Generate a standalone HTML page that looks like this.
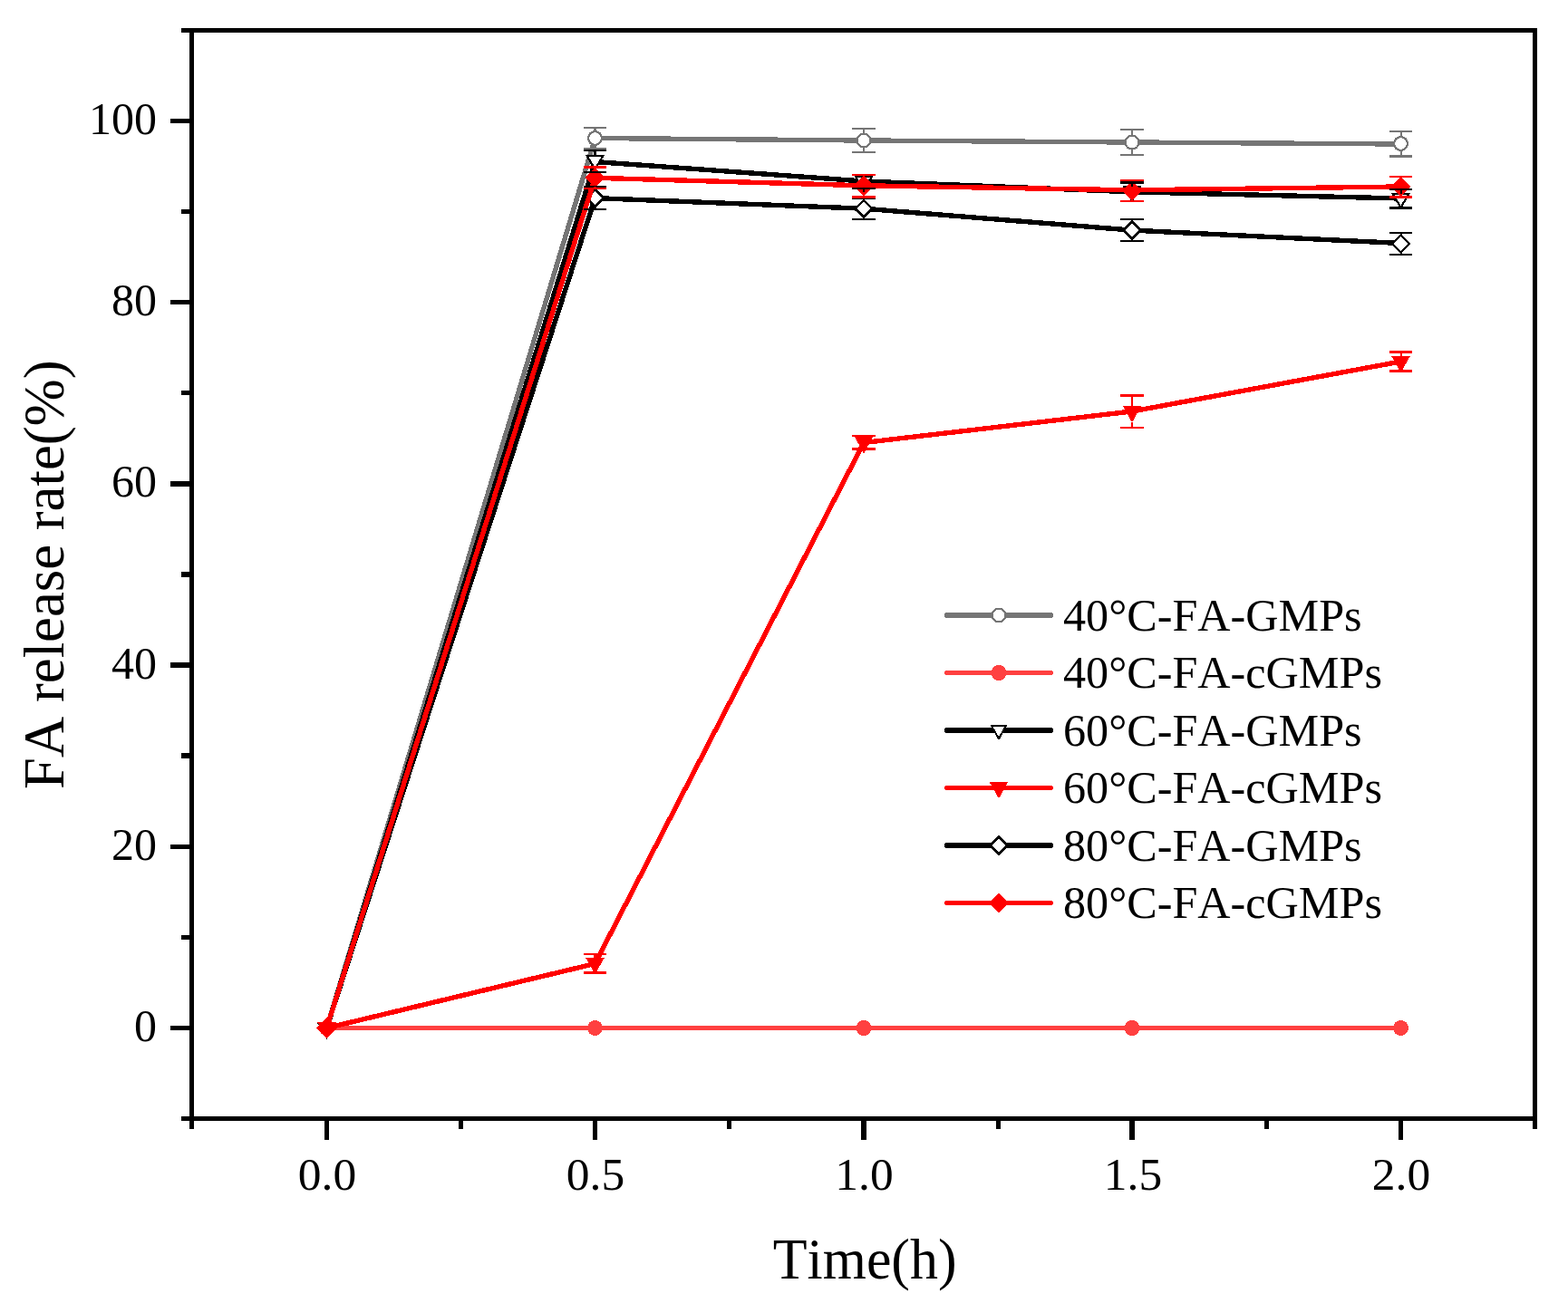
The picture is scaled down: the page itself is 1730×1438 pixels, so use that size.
<!DOCTYPE html>
<html lang="en"><head><meta charset="utf-8"><title>FA release rate</title>
<style>
html,body{margin:0;padding:0;background:#fff;}
body{width:1730px;height:1438px;overflow:hidden;}
svg{display:block;}
text{font-family:"Liberation Serif","DejaVu Serif",serif;fill:#000;font-kerning:none;}
</style></head><body>
<svg width="1730" height="1438" viewBox="0 0 1730 1438">
<rect x="0" y="0" width="1730" height="1438" fill="#fff"/>
<g shape-rendering="crispEdges" fill="none">
<polyline points="360.5,1134.5 656.5,152.5 953.0,155.0 1249.0,157.0 1545.5,159.0" stroke="#757575" stroke-width="5.4" stroke-linejoin="round" fill="none"/>
<circle cx="360.50" cy="1134.50" r="8.5" fill="#757575"/><circle cx="360.50" cy="1134.50" r="6.3" fill="#fff"/>
<circle cx="656.50" cy="152.50" r="8.5" fill="#757575"/><circle cx="656.50" cy="152.50" r="6.3" fill="#fff"/>
<circle cx="953.00" cy="155.00" r="8.5" fill="#757575"/><circle cx="953.00" cy="155.00" r="6.3" fill="#fff"/>
<circle cx="1249.00" cy="157.20" r="8.5" fill="#757575"/><circle cx="1249.00" cy="157.20" r="6.3" fill="#fff"/>
<circle cx="1545.50" cy="158.50" r="8.5" fill="#757575"/><circle cx="1545.50" cy="158.50" r="6.3" fill="#fff"/>
<polyline points="360.5,1134.5 656.5,1134.5 953.0,1134.5 1249.0,1134.5 1545.5,1134.5" stroke="#FF4040" stroke-width="5.4" stroke-linejoin="round" fill="none"/>
<circle cx="360.50" cy="1134.50" r="8.5" fill="#FF4040"/>
<circle cx="656.50" cy="1134.50" r="8.5" fill="#FF4040"/>
<circle cx="953.00" cy="1134.50" r="8.5" fill="#FF4040"/>
<circle cx="1249.00" cy="1134.50" r="8.5" fill="#FF4040"/>
<circle cx="1545.50" cy="1134.50" r="8.5" fill="#FF4040"/>
<polyline points="360.5,1134.5 656.5,178.5 953.0,200.0 1249.0,211.8 1545.5,219.0" stroke="#000000" stroke-width="5.4" stroke-linejoin="round" fill="none"/>
<polygon points="349.90,1128.50 371.10,1128.50 360.50,1146.90" fill="#000000"/><polygon points="353.60,1130.60 367.40,1130.60 360.50,1142.40" fill="#fff"/>
<polygon points="645.90,171.00 667.10,171.00 656.50,189.40" fill="#000000"/><polygon points="649.60,173.10 663.40,173.10 656.50,184.90" fill="#fff"/>
<polygon points="942.40,194.00 963.60,194.00 953.00,212.40" fill="#000000"/><polygon points="946.10,196.10 959.90,196.10 953.00,207.90" fill="#fff"/>
<polygon points="1238.40,205.00 1259.60,205.00 1249.00,223.40" fill="#000000"/><polygon points="1242.10,207.10 1255.90,207.10 1249.00,218.90" fill="#fff"/>
<polygon points="1534.90,213.00 1556.10,213.00 1545.50,231.40" fill="#000000"/><polygon points="1538.60,215.10 1552.40,215.10 1545.50,226.90" fill="#fff"/>
<polyline points="360.5,1134.5 656.5,1063.5 953.0,488.5 1249.0,454.0 1545.5,399.0" stroke="#FF0000" stroke-width="5.4" stroke-linejoin="round" fill="none"/>
<polygon points="350.20,1128.10 370.80,1128.10 360.50,1146.30" fill="#FF0000"/>
<polygon points="646.20,1057.00 666.80,1057.00 656.50,1075.20" fill="#FF0000"/>
<polygon points="942.70,482.00 963.30,482.00 953.00,500.20" fill="#FF0000"/>
<polygon points="1238.70,448.00 1259.30,448.00 1249.00,466.20" fill="#FF0000"/>
<polygon points="1535.20,393.00 1555.80,393.00 1545.50,411.20" fill="#FF0000"/>
<polyline points="360.5,1134.5 656.5,218.6 953.0,230.2 1249.0,254.1 1545.5,268.5" stroke="#000000" stroke-width="5.4" stroke-linejoin="round" fill="none"/>
<polygon points="360.50,1123.40 371.60,1134.50 360.50,1145.60 349.40,1134.50" fill="#000000"/><polygon points="360.50,1126.70 368.30,1134.50 360.50,1142.30 352.70,1134.50" fill="#fff"/>
<polygon points="656.50,207.50 667.60,218.60 656.50,229.70 645.40,218.60" fill="#000000"/><polygon points="656.50,210.80 664.30,218.60 656.50,226.40 648.70,218.60" fill="#fff"/>
<polygon points="953.00,219.10 964.10,230.20 953.00,241.30 941.90,230.20" fill="#000000"/><polygon points="953.00,222.40 960.80,230.20 953.00,238.00 945.20,230.20" fill="#fff"/>
<polygon points="1249.00,243.00 1260.10,254.10 1249.00,265.20 1237.90,254.10" fill="#000000"/><polygon points="1249.00,246.30 1256.80,254.10 1249.00,261.90 1241.20,254.10" fill="#fff"/>
<polygon points="1545.50,257.90 1556.60,269.00 1545.50,280.10 1534.40,269.00" fill="#000000"/><polygon points="1545.50,261.20 1553.30,269.00 1545.50,276.80 1537.70,269.00" fill="#fff"/>
<polyline points="360.5,1134.5 656.5,196.3 953.0,204.8 1249.0,209.8 1545.5,206.0" stroke="#FF0000" stroke-width="5.4" stroke-linejoin="round" fill="none"/>
<polygon points="360.50,1123.30 371.70,1134.50 360.50,1145.70 349.30,1134.50" fill="#FF0000"/>
<polygon points="656.50,185.10 667.70,196.30 656.50,207.50 645.30,196.30" fill="#FF0000"/>
<polygon points="953.00,193.80 964.20,205.00 953.00,216.20 941.80,205.00" fill="#FF0000"/>
<polygon points="1249.00,199.10 1260.20,210.30 1249.00,221.50 1237.80,210.30" fill="#FF0000"/>
<polygon points="1545.50,194.80 1556.70,206.00 1545.50,217.20 1534.30,206.00" fill="#FF0000"/>
<rect x="644" y="140" width="25" height="2" fill="#757575"/>
<rect x="644" y="163" width="25" height="2" fill="#757575"/>
<rect x="655" y="142" width="3" height="2" fill="#757575"/>
<rect x="655" y="160" width="3" height="3" fill="#757575"/>
<rect x="940" y="141" width="26" height="2" fill="#757575"/>
<rect x="940" y="167" width="26" height="2" fill="#757575"/>
<rect x="952" y="143" width="2" height="4" fill="#757575"/>
<rect x="952" y="163" width="2" height="4" fill="#757575"/>
<rect x="1236" y="142" width="26" height="2" fill="#757575"/>
<rect x="1236" y="170" width="26" height="2" fill="#757575"/>
<rect x="1248" y="144" width="2" height="5" fill="#757575"/>
<rect x="1248" y="165" width="2" height="5" fill="#757575"/>
<rect x="1533" y="144" width="25" height="2" fill="#757575"/>
<rect x="1533" y="171" width="25" height="3" fill="#757575"/>
<rect x="1545" y="146" width="2" height="4" fill="#757575"/>
<rect x="1545" y="166" width="2" height="5" fill="#757575"/>
<rect x="644" y="165" width="25" height="2" fill="#000000"/>
<rect x="644" y="189" width="25" height="2" fill="#000000"/>
<rect x="655" y="167" width="3" height="5" fill="#000000"/>
<rect x="940" y="192" width="26" height="2" fill="#000000"/>
<rect x="940" y="207" width="26" height="2" fill="#000000"/>
<rect x="952" y="194" width="2" height="1" fill="#000000"/>
<rect x="952" y="209" width="2" height="3" fill="#000000"/>
<rect x="1236" y="200" width="26" height="3" fill="#000000"/>
<rect x="1236" y="221" width="26" height="2" fill="#000000"/>
<rect x="1248" y="203" width="2" height="3" fill="#000000"/>
<rect x="1533" y="208" width="25" height="2" fill="#000000"/>
<rect x="1533" y="228" width="25" height="3" fill="#000000"/>
<rect x="1545" y="210" width="2" height="4" fill="#000000"/>
<rect x="644" y="1052" width="25" height="2" fill="#FF0000"/>
<rect x="644" y="1072" width="25" height="3" fill="#FF0000"/>
<rect x="655" y="1054" width="3" height="4" fill="#FF0000"/>
<rect x="940" y="480" width="26" height="2" fill="#FF0000"/>
<rect x="940" y="494" width="26" height="3" fill="#FF0000"/>
<rect x="952" y="482" width="2" height="1" fill="#FF0000"/>
<rect x="952" y="497" width="2" height="3" fill="#FF0000"/>
<rect x="1236" y="435" width="26" height="3" fill="#FF0000"/>
<rect x="1236" y="471" width="26" height="2" fill="#FF0000"/>
<rect x="1248" y="438" width="2" height="11" fill="#FF0000"/>
<rect x="1248" y="466" width="2" height="5" fill="#FF0000"/>
<rect x="1533" y="387" width="25" height="3" fill="#FF0000"/>
<rect x="1533" y="408" width="25" height="3" fill="#FF0000"/>
<rect x="1545" y="390" width="2" height="4" fill="#FF0000"/>
<rect x="644" y="205" width="25" height="2" fill="#000000"/>
<rect x="644" y="230" width="25" height="2" fill="#000000"/>
<rect x="655" y="207" width="3" height="2" fill="#000000"/>
<rect x="655" y="229" width="3" height="1" fill="#000000"/>
<rect x="940" y="218" width="26" height="2" fill="#000000"/>
<rect x="940" y="241" width="26" height="2" fill="#000000"/>
<rect x="952" y="240" width="2" height="1" fill="#000000"/>
<rect x="1236" y="241" width="26" height="2" fill="#000000"/>
<rect x="1236" y="265" width="26" height="2" fill="#000000"/>
<rect x="1248" y="243" width="2" height="1" fill="#000000"/>
<rect x="1248" y="264" width="2" height="1" fill="#000000"/>
<rect x="1533" y="256" width="25" height="2" fill="#000000"/>
<rect x="1533" y="280" width="25" height="2" fill="#000000"/>
<rect x="1545" y="258" width="2" height="1" fill="#000000"/>
<rect x="1545" y="279" width="2" height="1" fill="#000000"/>
<rect x="644" y="183" width="25" height="3" fill="#FF0000"/>
<rect x="644" y="207" width="25" height="2" fill="#FF0000"/>
<rect x="655" y="206" width="3" height="1" fill="#FF0000"/>
<rect x="940" y="192" width="26" height="2" fill="#FF0000"/>
<rect x="940" y="216" width="26" height="3" fill="#FF0000"/>
<rect x="952" y="194" width="2" height="1" fill="#FF0000"/>
<rect x="952" y="215" width="2" height="1" fill="#FF0000"/>
<rect x="1236" y="198" width="26" height="2" fill="#FF0000"/>
<rect x="1236" y="221" width="26" height="2" fill="#FF0000"/>
<rect x="1248" y="220" width="2" height="1" fill="#FF0000"/>
<rect x="1533" y="194" width="25" height="2" fill="#FF0000"/>
<rect x="1533" y="216" width="25" height="3" fill="#FF0000"/>
</g>
<g shape-rendering="crispEdges" fill="#000">
<rect x="209" y="31" width="5" height="1215"/>
<rect x="1691" y="31" width="5" height="1215"/>
<rect x="200" y="31" width="1496" height="5"/>
<rect x="200" y="1232" width="1496" height="5"/>
<rect x="188" y="131" width="21" height="5"/>
<rect x="188" y="331" width="21" height="5"/>
<rect x="188" y="531" width="21" height="6"/>
<rect x="188" y="731" width="21" height="6"/>
<rect x="188" y="932" width="21" height="5"/>
<rect x="188" y="1132" width="21" height="5"/>
<rect x="200" y="231" width="9" height="5"/>
<rect x="200" y="431" width="9" height="5"/>
<rect x="200" y="631" width="9" height="6"/>
<rect x="200" y="831" width="9" height="6"/>
<rect x="200" y="1032" width="9" height="5"/>
<rect x="358" y="1237" width="5" height="21"/>
<rect x="654" y="1237" width="5" height="21"/>
<rect x="950" y="1237" width="6" height="21"/>
<rect x="1246" y="1237" width="6" height="21"/>
<rect x="1543" y="1237" width="5" height="21"/>
<rect x="506" y="1237" width="5" height="9"/>
<rect x="802" y="1237" width="5" height="9"/>
<rect x="1099" y="1237" width="5" height="9"/>
<rect x="1395" y="1237" width="5" height="9"/>
</g>
<g>
<text transform="translate(148.10,1148.90) scale(1.0000,1.0300)" font-size="50">0</text>
<text transform="translate(123.10,948.70) scale(1.0000,1.0300)" font-size="50">20</text>
<text transform="translate(123.10,748.50) scale(1.0000,1.0300)" font-size="50">40</text>
<text transform="translate(123.10,548.30) scale(1.0000,1.0300)" font-size="50">60</text>
<text transform="translate(123.10,348.10) scale(1.0000,1.0300)" font-size="50">80</text>
<text transform="translate(98.10,147.90) scale(1.0000,1.0300)" font-size="50">100</text>
<text transform="translate(328.81,1312.70) scale(1.0300,1.0300)" font-size="50">0.0</text>
<text transform="translate(624.81,1312.70) scale(1.0300,1.0300)" font-size="50">0.5</text>
<text transform="translate(921.31,1312.70) scale(1.0300,1.0300)" font-size="50">1.0</text>
<text transform="translate(1217.81,1312.70) scale(1.0300,1.0300)" font-size="50">1.5</text>
<text transform="translate(1513.81,1312.70) scale(1.0300,1.0300)" font-size="50">2.0</text>
</g>
<text transform="translate(852.78,1411.10) scale(0.9669,1.0000)" font-size="64">Time(h)</text>
<text transform="translate(70.0,870.91) rotate(-90) scale(0.9803,1)" font-size="64">FA release rate(%)</text>
<g>
<g shape-rendering="crispEdges"><rect x="1043" y="676" width="118" height="6" fill="#757575"/><rect x="1042" y="677" width="120" height="4" fill="#757575"/>
<circle cx="1102.00" cy="679.00" r="8.5" fill="#757575"/><circle cx="1102.00" cy="679.00" r="6.3" fill="#fff"/></g>
<text transform="translate(1173.00,695.70) scale(1.0040,1.0300)" font-size="50">40°C-FA-GMPs</text>
<g shape-rendering="crispEdges"><rect x="1043" y="740" width="118" height="5" fill="#FF4040"/><rect x="1042" y="741" width="120" height="3" fill="#FF4040"/>
<circle cx="1102.00" cy="742.50" r="8.5" fill="#FF4040"/></g>
<text transform="translate(1173.00,759.20) scale(1.0040,1.0300)" font-size="50">40°C-FA-cGMPs</text>
<g shape-rendering="crispEdges"><rect x="1043" y="803" width="118" height="6" fill="#000000"/><rect x="1042" y="804" width="120" height="4" fill="#000000"/>
<polygon points="1092.30,800.00 1111.70,800.00 1102.00,817.30" fill="#000000"/><polygon points="1095.70,802.10 1108.30,802.10 1102.00,813.10" fill="#fff"/></g>
<text transform="translate(1173.00,822.70) scale(1.0040,1.0300)" font-size="50">60°C-FA-GMPs</text>
<g shape-rendering="crispEdges"><rect x="1043" y="867" width="118" height="5" fill="#FF0000"/><rect x="1042" y="868" width="120" height="3" fill="#FF0000"/>
<polygon points="1091.70,863.10 1112.30,863.10 1102.00,881.30" fill="#FF0000"/></g>
<text transform="translate(1173.00,886.20) scale(1.0040,1.0300)" font-size="50">60°C-FA-cGMPs</text>
<g shape-rendering="crispEdges"><rect x="1043" y="930" width="118" height="6" fill="#000000"/><rect x="1042" y="931" width="120" height="4" fill="#000000"/>
<polygon points="1102.00,921.90 1113.10,933.00 1102.00,944.10 1090.90,933.00" fill="#000000"/><polygon points="1102.00,925.20 1109.80,933.00 1102.00,940.80 1094.20,933.00" fill="#fff"/></g>
<text transform="translate(1173.00,949.70) scale(1.0040,1.0300)" font-size="50">80°C-FA-GMPs</text>
<g shape-rendering="crispEdges"><rect x="1043" y="994" width="118" height="5" fill="#FF0000"/><rect x="1042" y="995" width="120" height="3" fill="#FF0000"/>
<polygon points="1102.00,985.30 1113.20,996.50 1102.00,1007.70 1090.80,996.50" fill="#FF0000"/></g>
<text transform="translate(1173.00,1013.20) scale(1.0040,1.0300)" font-size="50">80°C-FA-cGMPs</text>
</g>
</svg></body></html>
